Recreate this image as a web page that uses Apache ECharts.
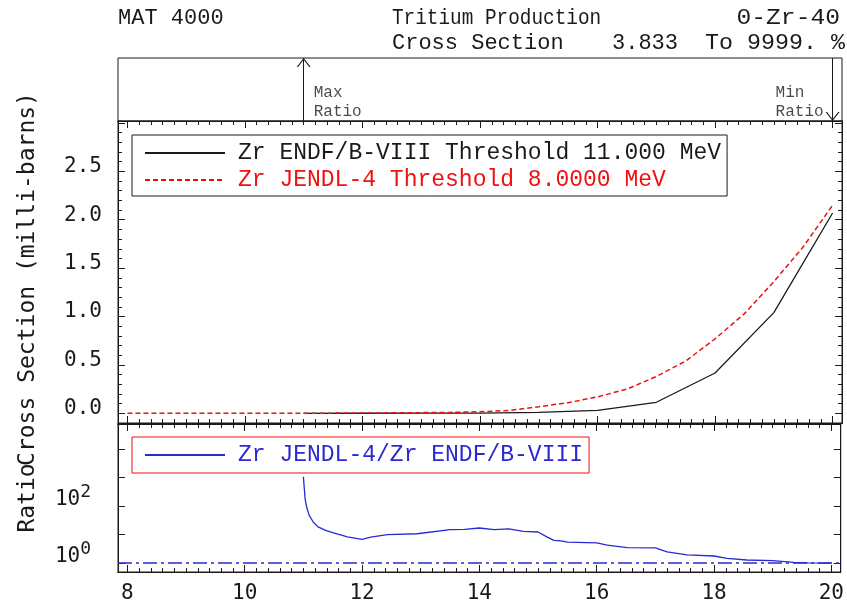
<!DOCTYPE html>
<html>
<head>
<meta charset="utf-8">
<script src="https://cdn.jsdelivr.net/npm/echarts@6/dist/echarts.min.js"></script>
<style>
  html, body { margin: 0; padding: 0; background: #fff; }
  #chart { width: 847px; height: 604px; }
</style>
</head>
<body>
<div id="chart"></div>
<script>
// Tritium production on Zr-40: cross sections in milli-barns versus incident energy in MeV
const endfEnergy = [11, 12, 13, 14, 15, 16, 17, 18, 19, 20];
const endfXs     = [0, 0.0006, 0.0015, 0.003, 0.01, 0.031, 0.114, 0.417, 1.04, 2.07];

const jendlEnergy = [8, 9, 10, 11, 12, 13, 13.5, 14, 14.5, 15, 15.5, 16, 16.5, 17, 17.5, 18, 18.5, 19, 19.5, 20];
const jendlXs     = [0, 0.0001, 0.0004, 0.001, 0.003, 0.007, 0.01, 0.016, 0.03, 0.068, 0.11, 0.17, 0.25, 0.38, 0.54, 0.77, 1.03, 1.36, 1.72, 2.15];

// JENDL-4 / ENDF/B-VIII ratio
const ratioEnergy = [11, 11.03, 11.06, 11.1, 11.17, 11.25, 11.38, 11.5, 11.75, 12, 12.15, 12.43, 12.94, 13.5, 13.75, 14, 14.25, 14.5, 14.75, 15,
                     15.15, 15.27, 15.39, 15.5, 16, 16.18, 16.52, 17, 17.2, 17.54, 18, 18.22, 18.56, 19, 19.36, 19.6, 20];
const ratioValue  = [1050, 174, 85, 47, 27, 18.6, 14, 11.7, 8.3, 6.8, 8.1, 10, 10.7, 14.8, 15.1, 17, 14.8, 15.7, 12.9, 12.3,
                     8.3, 6.3, 6.0, 5.4, 5.1, 4.3, 3.5, 3.4, 2.5, 1.95, 1.78, 1.48, 1.29, 1.23, 1.07, 1.02, 1.0];

// Tick labels
const energyTickLabels = [8, 10, 12, 14, 16, 18, 20];
const xsTickLabels     = [0, 0.5, 1.0, 1.5, 2.0, 2.5];
const ratioTickLabels  = [1, 100];

const INK = '#1a1a1a';
const RED = '#ee1111';
const BLUE = '#2a2ad0';
const MONO = '"Liberation Mono", "DejaVu Sans Mono", monospace';
const SANSMONO = '"DejaVu Sans Mono", "Liberation Mono", monospace';

const E_MIN = 7.84, E_MAX = 20.16;
const XS_MIN = -0.1, XS_MAX = 3.02;

const zip = (a, b) => a.map((v, i) => [v, b[i]]);
const threshold = e => e[0].toPrecision(5);

const endfName  = `Zr ENDF/B-VIII Threshold ${threshold(endfEnergy)} MeV`;
const jendlName = `Zr JENDL-4 Threshold ${threshold(jendlEnergy)} MeV`;
const ratioName = 'Zr JENDL-4/Zr ENDF/B-VIII';

// energies of the largest and smallest ratio
const iMax = ratioValue.indexOf(Math.max(...ratioValue));
const iMin = ratioValue.lastIndexOf(Math.min(...ratioValue));
const maxRatioE = ratioEnergy[iMax];
const minRatioE = ratioEnergy[iMin];

// tick positions
const eMajor = [];
for (let v = 8; v <= 20; v += 2) eMajor.push(v);
const eMinor = [];
for (let k = 80; k <= 200; k += 2) eMinor.push(k / 10);
const xsMajor = [];
for (let k = 0; k <= 6; k++) xsMajor.push(k / 2);
const xsMinor = [];
for (let k = -1; k <= 30; k++) xsMinor.push(k / 10);

function xAxis(grid, pos, ticks, len, label) {
  return {
    type: 'value', gridIndex: grid, position: pos, min: E_MIN, max: E_MAX,
    axisLine: { show: true, onZero: false, lineStyle: { color: INK, width: 1 } },
    axisTick: { show: ticks.length > 0, inside: true, length: len, customValues: ticks, lineStyle: { color: INK, width: 1 } },
    axisLabel: label ? {
      show: true, customValues: energyTickLabels, margin: 11,
      fontFamily: SANSMONO, fontSize: 21, color: INK,
      formatter: v => String(v)
    } : { show: false },
    splitLine: { show: false }
  };
}

function xsAxis(pos, ticks, len, label) {
  return {
    type: 'value', gridIndex: 1, position: pos, min: XS_MIN, max: XS_MAX,
    axisLine: { show: true, onZero: false, lineStyle: { color: INK, width: 1 } },
    axisTick: { show: true, inside: true, length: len, customValues: ticks, lineStyle: { color: INK, width: 1 } },
    axisLabel: label ? {
      show: true, customValues: xsTickLabels, margin: 16,
      verticalAlign: 'bottom', lineHeight: 9,
      fontFamily: SANSMONO, fontSize: 21, color: INK,
      formatter: v => v.toFixed(1)
    } : { show: false },
    splitLine: { show: false },
    name: label ? 'Cross Section (milli-barns)' : '',
    nameLocation: 'middle', nameGap: 78, nameRotate: 90,
    nameTextStyle: { fontFamily: SANSMONO, fontSize: 23, color: INK, padding: [0, 14, 0, 0] }
  };
}

function ratioAxis(pos, label) {
  return {
    type: 'log', logBase: 10, gridIndex: 2, position: pos, min: 0.49, max: 74000,
    axisLine: { show: true, onZero: false, lineStyle: { color: INK, width: 1 } },
    axisTick: { show: true, inside: true, length: 7, lineStyle: { color: INK, width: 1 } },
    minorTick: { show: false },
    axisLabel: label ? {
      show: true, margin: 27, color: INK, padding: [0, 0, 13, 0],
      formatter: v => {
        const p = Math.round(Math.log10(v));
        if (Math.abs(Math.log10(v) - p) > 1e-6) return '';
        return ratioTickLabels.includes(Math.pow(10, p)) ? `{b|10}{s|${p}}` : '';
      },
      rich: {
        b: { fontFamily: SANSMONO, fontSize: 21, color: INK },
        s: { fontFamily: SANSMONO, fontSize: 18, color: INK, padding: [0, 0, 14, 0] }
      }
    } : { show: false },
    splitLine: { show: false },
    name: label ? 'Ratio' : '',
    nameLocation: 'middle', nameGap: 78, nameRotate: 90,
    nameTextStyle: { fontFamily: SANSMONO, fontSize: 23, color: INK }
  };
}

// open arrowhead, tip at the top
const chevron = 'path://M0,10 L5,0 L10,10 L9,10 L5,2 L1,10 Z';

const option = {
  backgroundColor: '#ffffff',
  animation: false,
  textStyle: { fontFamily: MONO },
  grid: [
    { left: 118, right: 5, top: 58, height: 63, show: true, borderColor: INK, borderWidth: 1 },
    { left: 118, right: 5, top: 121, height: 302, show: true, borderColor: INK, borderWidth: 1 },
    { left: 118, right: 5, top: 424, height: 150, show: true, borderColor: INK, borderWidth: 1 }
  ],
  xAxis: [
    xAxis(0, 'bottom', [], 0, false),          // 0 top box
    xAxis(1, 'bottom', eMajor, 7, false),      // 1 main
    xAxis(1, 'bottom', eMinor, 4, false),      // 2
    xAxis(1, 'top', eMajor, 7, false),         // 3
    xAxis(1, 'top', eMinor, 4, false),         // 4
    xAxis(2, 'bottom', eMajor, 7, true),       // 5 ratio
    xAxis(2, 'bottom', eMinor, 4, false),      // 6
    xAxis(2, 'top', eMajor, 7, false),         // 7
    xAxis(2, 'top', eMinor, 4, false)          // 8
  ],
  yAxis: [
    { type: 'value', gridIndex: 0, min: 0, max: 1, show: false },   // 0 top box
    xsAxis('left', xsMajor, 7, true),          // 1
    xsAxis('left', xsMinor, 4, false),         // 2
    xsAxis('right', xsMajor, 7, false),        // 3
    xsAxis('right', xsMinor, 4, false),        // 4
    ratioAxis('left', true),                   // 5
    ratioAxis('right', false)                  // 6
  ],
  legend: [
    {
      orient: 'vertical', left: 132, top: 135,
      padding: [6, 6, 4, 12], itemGap: 3, itemWidth: 80, itemHeight: 14,
      borderColor: INK, borderWidth: 1, selectedMode: false,
      itemStyle: { opacity: 0 },
      textStyle: { fontFamily: MONO, fontSize: 23, lineHeight: 24, color: INK, padding: [0, 0, 0, 8] },
      data: [
        { name: endfName, textStyle: { color: INK } },
        { name: jendlName, textStyle: { color: RED } }
      ]
    },
    {
      orient: 'vertical', left: 132, top: 437,
      padding: [6, 6, 6, 12], itemWidth: 80, itemHeight: 14,
      borderColor: RED, borderWidth: 1, selectedMode: false,
      itemStyle: { opacity: 0 },
      textStyle: { fontFamily: MONO, fontSize: 23, lineHeight: 24, color: BLUE, padding: [0, 0, 0, 8] },
      data: [{ name: ratioName, textStyle: { color: BLUE } }]
    }
  ],
  graphic: [
    { type: 'text', x: 118, y: 18, style: { text: 'MAT 4000', font: `22px ${MONO}`, fill: INK, textVerticalAlign: 'middle' } },
    { type: 'text', x: 392, y: 18, scaleX: 0.88, style: { text: 'Tritium Production', font: `22px ${MONO}`, fill: INK, textVerticalAlign: 'middle' } },
    { type: 'text', x: 840, y: 18, scaleX: 1.12, style: { text: '0-Zr-40', font: `22px ${MONO}`, fill: INK, textAlign: 'right', textVerticalAlign: 'middle' } },
    { type: 'text', x: 392, y: 43, style: { text: 'Cross Section', font: `22px ${MONO}`, fill: INK, textVerticalAlign: 'middle' } },
    { type: 'text', x: 612, y: 43, style: { text: '3.833', font: `22px ${MONO}`, fill: INK, textVerticalAlign: 'middle' } },
    { type: 'text', x: 845, y: 43, scaleX: 1.06, style: { text: 'To 9999. %', font: `22px ${MONO}`, fill: INK, textAlign: 'right', textVerticalAlign: 'middle' } }
  ],
  series: [
    {
      name: endfName, type: 'line', xAxisIndex: 1, yAxisIndex: 1,
      data: zip(endfEnergy, endfXs), showSymbol: false, symbol: 'none',
      lineStyle: { color: INK, width: 1.3 }, itemStyle: { color: INK }, z: 3
    },
    {
      name: jendlName, type: 'line', xAxisIndex: 1, yAxisIndex: 1,
      data: zip(jendlEnergy, jendlXs), showSymbol: false, symbol: 'none',
      lineStyle: { color: RED, width: 1.5, type: [5, 3] }, itemStyle: { color: RED }, z: 4
    },
    {
      name: ratioName, type: 'line', xAxisIndex: 5, yAxisIndex: 5,
      data: zip(ratioEnergy, ratioValue), showSymbol: false, symbol: 'none',
      lineStyle: { color: BLUE, width: 1.3 }, itemStyle: { color: BLUE }, z: 3,
      markLine: {
        silent: true, symbol: 'none', label: { show: false },
        lineStyle: { color: BLUE, width: 1.5, type: [14, 4, 3, 4] },
        data: [{ yAxis: 1 }]
      }
    },
    {
      // arrow stems marking where the ratio peaks and bottoms out
      type: 'lines', coordinateSystem: 'cartesian2d', xAxisIndex: 0, yAxisIndex: 0,
      symbol: 'none', silent: true,
      lineStyle: { color: INK, width: 1, opacity: 1, curveness: 0 },
      data: [
        { coords: [[maxRatioE, 0], [maxRatioE, 1]] },
        { coords: [[minRatioE, 1], [minRatioE, 0]] }
      ]
    },
    {
      // arrowheads
      type: 'scatter', xAxisIndex: 0, yAxisIndex: 0, silent: true,
      symbol: chevron, symbolSize: [14, 9],
      itemStyle: { color: INK, opacity: 1 },
      data: [
        { value: [maxRatioE, 1], symbolOffset: [0, '50%'] },
        { value: [minRatioE, 0], symbolRotate: 180, symbolOffset: [0, '-50%'] }
      ],
      z: 5
    },
    {
      // arrow captions
      type: 'scatter', xAxisIndex: 0, yAxisIndex: 0, symbolSize: 0, silent: true,
      data: [
        { value: [maxRatioE, 0.29], label: { formatter: 'Max\nRatio', offset: [5, 0] } },
        { value: [minRatioE, 0.29], label: { formatter: 'Min\nRatio', offset: [-62, 0] } }
      ],
      label: {
        show: true, position: 'right', align: 'left',
        fontFamily: MONO, fontSize: 16, lineHeight: 19, color: INK
      }
    }
  ]
};

const chart = echarts.init(document.getElementById('chart'), null, { renderer: 'canvas' });
chart.setOption(option);
</script>
</body>
</html>
